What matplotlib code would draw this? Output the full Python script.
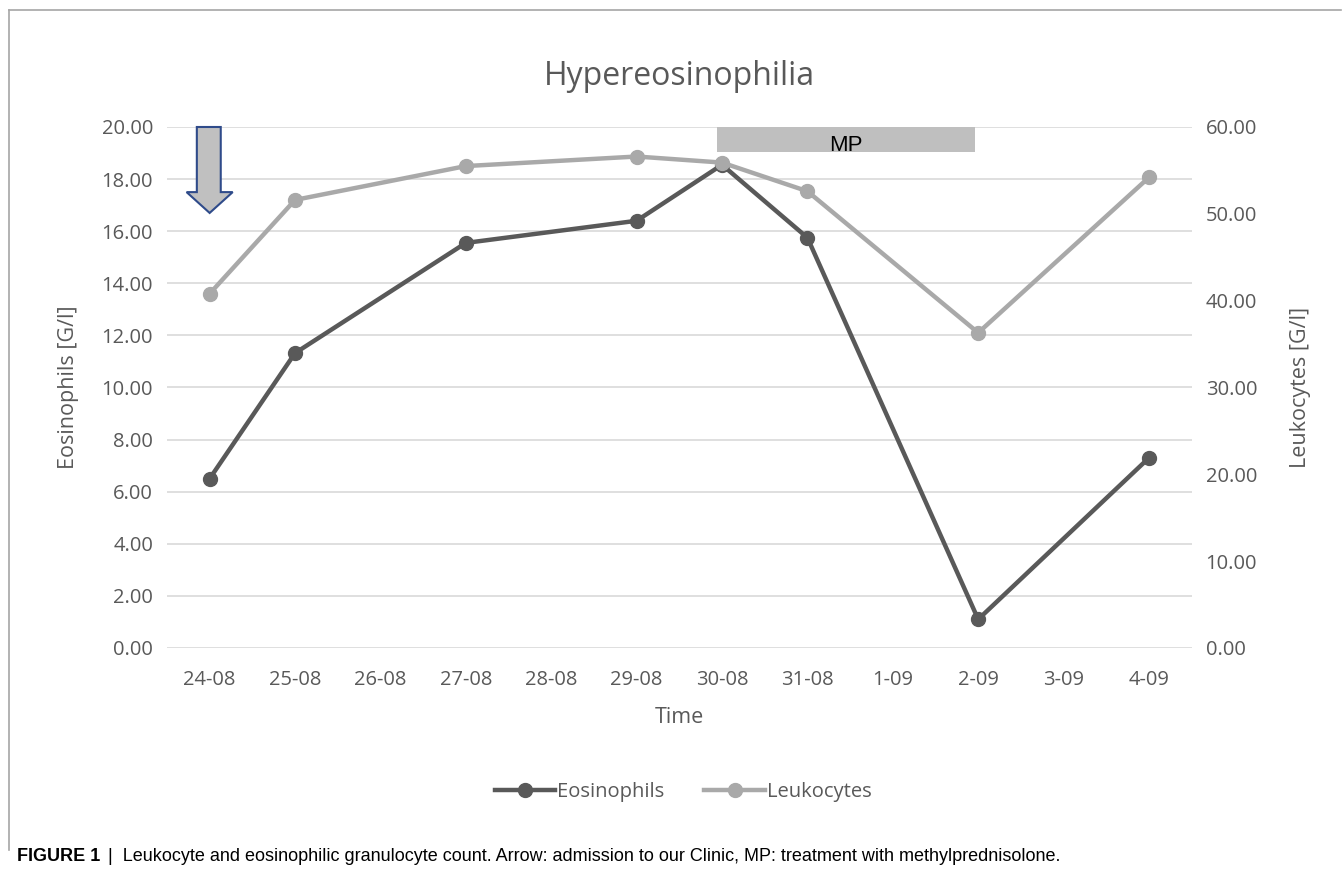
import numpy as np
import matplotlib.pyplot as plt
from matplotlib.patches import Rectangle, Polygon
from matplotlib.lines import Line2D

plt.rcParams["font.family"] = ["Open Sans", "DejaVu Sans"]

dates = ["24-08", "25-08", "26-08", "27-08", "28-08", "29-08",
         "30-08", "31-08", "1-09", "2-09", "3-09", "4-09"]
eosinophils = [6.50, 11.32, np.nan, 15.55, np.nan, 16.40,
               18.55, 15.75, np.nan, 1.10, np.nan, 7.30]
leukocytes = [40.8, 51.6, np.nan, 55.5, np.nan, 56.6,
              55.9, 52.6, np.nan, 36.3, np.nan, 54.2]

txt = "#595959"
grid = "#d9d9d9"

fig = plt.figure(figsize=(13.42, 8.74), dpi=100)
ax = fig.add_axes([0.1244, 0.2586, 0.7636, 0.5961])
ax2 = ax.twinx()

x = np.arange(len(dates))
e = np.array(eosinophils)
l = np.array(leukocytes)
me = ~np.isnan(e)
ml = ~np.isnan(l)

ax.plot(x[me], e[me], color="#595959", lw=3.2, marker="o", ms=10, zorder=3)
ax2.plot(x[ml], l[ml], color="#a9a9a9", lw=3.2, marker="o", ms=10, zorder=3)

ax.set_xlim(-0.5, len(dates) - 0.5)
ax.set_ylim(0, 20)
ax2.set_ylim(0, 60)
ax.set_yticks(np.arange(0, 20.1, 2))
ax2.set_yticks(np.arange(0, 60.1, 10))
ax.set_yticklabels(["%.2f" % v for v in np.arange(0, 20.1, 2)])
ax2.set_yticklabels(["%.2f" % v for v in np.arange(0, 60.1, 10)])
ax.set_xticks(x)
ax.set_xticklabels(dates)

for a in (ax, ax2):
    for s in a.spines.values():
        s.set_visible(False)
    a.tick_params(length=0, labelsize=14.5, colors=txt, pad=10)
ax.tick_params(axis="x", pad=16)
ax.yaxis.grid(True, color=grid, lw=1.2)
ax.set_axisbelow(True)

ax.set_ylabel("Eosinophils [G/l]", fontsize=15.5, color=txt, labelpad=16)
ax2.set_ylabel("Leukocytes [G/l]", fontsize=15.5, color=txt, labelpad=24,
               rotation=90)
ax.set_xlabel("Time", fontsize=15.5, color=txt, labelpad=12)
ax.set_title("Hypereosinophilia", fontsize=23, color=txt, pad=30)

# MP treatment bar
ax.add_patch(Rectangle((5.94, 19.04), 3.02, 0.96, facecolor="#bfbfbf",
                       edgecolor="none", zorder=4, clip_on=False))
ax.text(7.45, 19.3, "MP", ha="center", va="center", fontsize=16,
        color="black", family="Liberation Sans", zorder=5)

# admission arrow
arrow = Polygon([(-0.15, 20), (0.13, 20), (0.13, 17.5), (0.27, 17.5),
                 (0.0, 16.7), (-0.27, 17.5), (-0.15, 17.5)],
                closed=True, facecolor="#c0c0c0", edgecolor="#2f4b8a",
                lw=1.5, zorder=5, clip_on=False)
ax.add_patch(arrow)

handles = [Line2D([], [], color="#595959", lw=3.2, marker="o", ms=10),
           Line2D([], [], color="#a9a9a9", lw=3.2, marker="o", ms=10)]
fig.legend(handles, ["Eosinophils", "Leukocytes"], loc="center",
           bbox_to_anchor=(0.509, 0.094), ncol=2, frameon=False,
           fontsize=14.5, handlelength=3.0, handletextpad=0.1,
           columnspacing=2.0, labelcolor=txt)

# frame lines (top and left)
fig.add_artist(Line2D([0.0067, 0.999], [0.9886, 0.9886], color="#a6a6a6",
                      lw=1.2, transform=fig.transFigure))
fig.add_artist(Line2D([0.0067, 0.0067], [0.9886, 0.027], color="#a6a6a6",
                      lw=1.2, transform=fig.transFigure))

fig.text(0.0127, 0.0195, "FIGURE 1", fontsize=13, fontweight="bold",
         family="Liberation Sans", color="black", va="center")
fig.text(0.0805, 0.0195, "|  Leukocyte and eosinophilic granulocyte count. "
         "Arrow: admission to our Clinic, MP: treatment with methylprednisolone.",
         fontsize=13, family="Liberation Sans", color="black", va="center")

fig.savefig("out.png", dpi=100)
